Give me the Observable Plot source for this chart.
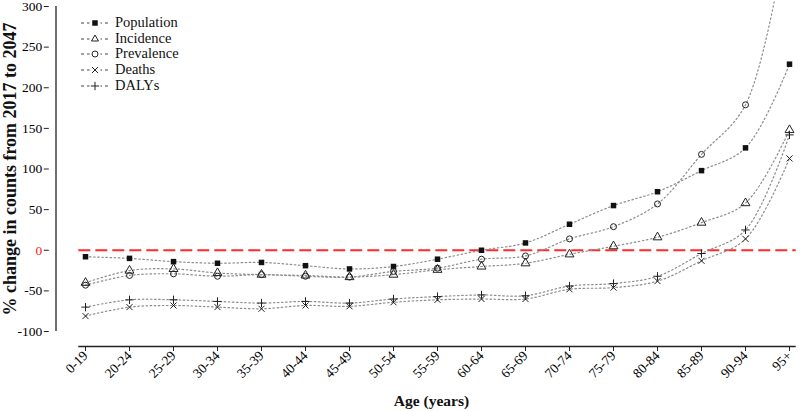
<!DOCTYPE html>
<html>
<head>
<meta charset="utf-8">
<script src="https://cdn.jsdelivr.net/npm/d3@7"></script>
<script src="https://cdn.jsdelivr.net/npm/@observablehq/plot@0.6"></script>
<style>
  html, body { margin: 0; padding: 0; background: white; }
  #wrap { position: relative; width: 800px; height: 411px; overflow: hidden; font-family: "Liberation Serif", "DejaVu Serif", serif; }
  #legend { position: absolute; left: 80px; top: 15px; font-size: 14.5px; line-height: 15.7px; color: #111; }
  #legend .row { display: flex; align-items: center; height: 15.7px; }
  #legend svg { margin-right: 5px; }
</style>
</head>
<body>
<div id="wrap">
  <div id="chart"></div>
  <div id="legend"></div>
</div>
<script>
const ages = ["0-19","20-24","25-29","30-34","35-39","40-44","45-49","50-54","55-59","60-64","65-69","70-74","75-79","80-84","85-89","90-94","95+"];
const population = [-8,-10,-14,-16,-15,-19,-23,-20,-11,0,9,32,55,72,98,126,229];
const incidence  = [-40,-25,-23,-28,-30,-31,-33,-30,-24,-20,-16,-5,5,16,34,58,148];
const prevalence = [-43,-31,-29,-32,-30,-32,-33,-26,-22,-11,-7,14,29,57,118,179,410];
const deaths     = [-81,-70,-68,-70,-72,-68,-69,-64,-61,-60,-60,-48,-46,-38,-13,14,113];
const dalys      = [-70,-61,-61,-63,-65,-63,-65,-60,-57,-55,-56,-44,-41,-32,-4,25,142];
const seriesNames = ["Population","Incidence","Prevalence","Deaths","DALYs"];
const yTicks = [-100,-50,0,50,100,150,200,250,300];

const seriesValues = [population, incidence, prevalence, deaths, dalys];
const symbols = ["square","triangle","circle","times","plus"];
const filled = [true,false,false,false,false];
const radii = [3.1, 3.3, 3.0, 2.85, 2.8];

const data = [];
seriesNames.forEach((s, i) => ages.forEach((a, j) => data.push({series: s, age: a, value: seriesValues[i][j]})));

const font = "Liberation Serif";
const marks = [
  Plot.ruleY([0], {stroke: "#ff2a2a", strokeWidth: 2, strokeDasharray: "12,5"}),
  Plot.line(data, {x: "age", y: "value", z: "series", stroke: "#8c8c8c", strokeWidth: 1.2, strokeDasharray: "1.5,2.6", curve: "catmull-rom"}),
];
seriesNames.forEach((s, i) => {
  const d = data.filter(r => r.series === s);
  marks.push(Plot.dot(d, {
    x: "age", y: "value", symbol: () => symbols[i],
    r: radii[i],
    fill: filled[i] ? "#111" : "none",
    stroke: filled[i] ? "none" : "#222",
    strokeWidth: 1
  }));
});
// axes
marks.push(
  Plot.ruleX([ages[0]], {y1: -100, y2: 300, dx: -29.5, stroke: "#222", strokeWidth: 1.3}),
  Plot.axisY(yTicks.filter(t => t !== 0), {tickSize: 5, tickPadding: 2, dx: -29.5, tickFormat: d => String(d), fontSize: 13.5, label: null, stroke: "#222"}),
  Plot.axisY([0], {tickSize: 5, tickPadding: 2, dx: -29.5, tickFormat: d => String(d), fontSize: 13.5, label: null, fill: "#ff2020", stroke: "#222"}),
  Plot.ruleY([-100], {dy: 15, stroke: "#222", strokeWidth: 1.3}),
  Plot.axisX({tickSize: 5, tickPadding: 2, dy: 15, tickRotate: -45, fontSize: 13.5, label: null, stroke: "#222"}),
  Plot.text(["% change in counts from 2017 to 2047"], {frameAnchor: "left", textAnchor: "middle", lineAnchor: "middle", rotate: -90, dx: -69, fontSize: 18, fontWeight: "bold", fill: "#111"}),
  Plot.text(["Age (years)"], {frameAnchor: "bottom", lineAnchor: "middle", dy: 70, dx: -6, fontSize: 15.5, fontWeight: "bold", fill: "#111"})
);

const chart = Plot.plot({
  width: 800,
  height: 411,
  marginLeft: 78.3,
  marginRight: 4.3,
  marginTop: 6,
  marginBottom: 80,
  style: {fontFamily: font, background: "white", overflow: "hidden"},
  x: {type: "point", domain: ages, padding: 0, axis: null},
  y: {domain: [-100, 300], axis: null},
  marks
});
document.getElementById("chart").appendChild(chart);

// legend
const legend = document.getElementById("legend");
const symMap = {square: d3.symbolSquare, triangle: d3.symbolTriangle2, circle: d3.symbolCircle, times: d3.symbolTimes, plus: d3.symbolPlus};
seriesNames.forEach((s, i) => {
  const row = document.createElement("div");
  row.className = "row";
  const w = 30, h = 14;
  const size = Math.PI * radii[i] * radii[i];
  const path = d3.symbol(symMap[symbols[i]], size)();
  row.innerHTML = `<svg width="${w}" height="${h}">
    <line x1="1" x2="${w-1}" y1="${h/2}" y2="${h/2}" stroke="#444" stroke-width="1" stroke-dasharray="3,3"/>
    <rect x="${w/2-5.5}" y="1" width="11" height="${h-2}" fill="white"/>
    <path d="${path}" transform="translate(${w/2},${h/2})" fill="${filled[i] ? '#111' : 'none'}" stroke="${filled[i] ? 'none' : '#222'}" stroke-width="1"/>
  </svg><span>${s}</span>`;
  legend.appendChild(row);
});
</script>
</body>
</html>
